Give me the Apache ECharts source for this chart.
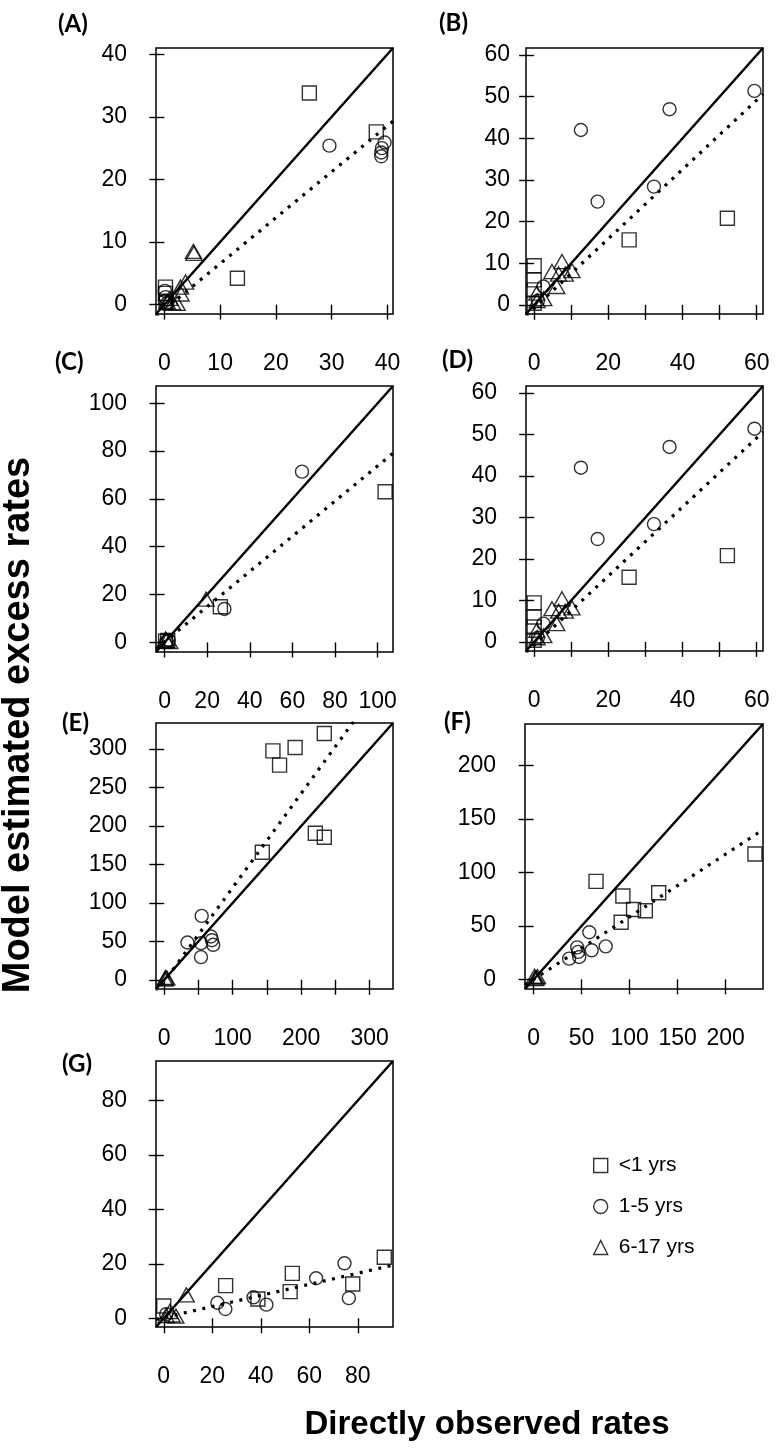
<!DOCTYPE html>
<html><head><meta charset="utf-8">
<script src="https://cdn.jsdelivr.net/npm/echarts@6/dist/echarts.min.js"></script>
<style>html,body{margin:0;padding:0;background:#fff}#c{width:777px;height:1451px}</style>
</head><body><div id="c"></div>
<script>
// ---------------- data ----------------
const legendNames = ['<1 yrs', '1-5 yrs', '6-17 yrs'];
const panelLabels = ['(A)', '(B)', '(C)', '(D)', '(E)', '(F)', '(G)'];
const yTitle = 'Model estimated excess rates';
const xTitle = 'Directly observed rates';

// Panel A
const aSquares = [[0.2,2.8],[0.2,1.8],[0.3,0.3],[13.1,4.2],[26,33.8],[38,27.6]];
const aCircles = [[0.1,2.2],[0.2,1.2],[0.1,0.6],[0.5,0.2],[29.6,25.4],[39.5,25.9],[39,25],[38.9,24.3],[38.9,23.7]];
const aTriangles = [[0.5,0.5],[1,1],[2.3,0.2],[3,1.7],[2.9,2.8],[3.8,3.6],[5.2,8.5],[5.3,8.2],[1.5,0.3]];
const aFit = [[-1.5,-1.9],[41,29.3]];
const aRange = [-1.5, 41];
const aXTicks = [0,10,20,30,40], aXLabels = [0,10,20,30,40], aYTicks = [0,10,20,30,40];

// Panel B
const bSquares = [[0,9.4],[0,6.0],[0,3.6],[0,0.4],[25.6,15.6],[52.1,20.8]];
const bCircles = [[2.5,4.4],[12.6,42.0],[17.1,24.8],[32.3,28.4],[36.5,47.0],[59.4,51.4],[1,1]];
const bTriangles = [[0.7,2.8],[2.6,1.5],[0.8,1.0],[4.8,8.0],[6.6,7.4],[7.5,10.4],[8.4,7.4],[10.2,8.2],[6.1,4.4]];
const bFit = [[-2.2,-2.6],[61.7,50.6]];
const bRange = [-2.2, 61.7];
const bXTicks = [0,10,20,30,40,50,60], bXLabels = [0,20,40,60], bYTicks = [0,10,20,30,40,50,60];

// Panel C
const cSquares = [[0.5,0.5],[1.5,0.8],[26.2,14.9],[103.5,63.0]];
const cCircles = [[0.8,0.3],[2,1],[28.1,14.0],[64.5,71.4]];
const cTriangles = [[1,0.8],[2.5,0.3],[0.5,1.5],[19.5,18.1]];
const cFit = [[-4,-2.7],[107.2,79.1]];
const cRange = [-4, 107.2];
const cXTicks = [0,20,40,60,80,100], cXLabels = [0,20,40,60,80,100], cYTicks = [0,20,40,60,80,100];

// Panel D
const dSquares = [[0,9.4],[0,6.0],[0,3.6],[0,0.4],[25.6,15.6],[52.1,20.8]];
const dCircles = [[2.5,4.4],[12.6,42.0],[17.1,24.8],[32.3,28.4],[36.5,47.0],[59.4,51.4],[1,1]];
const dTriangles = [[0.7,2.8],[2.6,1.5],[0.8,1.0],[4.8,8.0],[6.6,7.4],[7.5,10.4],[8.4,7.4],[10.2,8.2],[6.1,4.4]];
const dFit = [[-2.2,-2.6],[61.7,50.6]];
const dRange = [-2.2, 61.7];
const dXTicks = [0,10,20,30,40,50,60], dXLabels = [0,20,40,60], dYTicks = [0,10,20,30,40,50,60];

// Panel E
const eSquares = [[143.2,165.8],[158.7,297.8],[168.4,279.2],[191.1,302.2],[233.7,320.3],[220.6,190.5],[233.7,185.3]];
const eCircles = [[33.9,48.5],[53.7,47.6],[54.7,83.1],[68.2,56.3],[69.7,51.5],[71.6,45.5],[53.7,29.5]];
const eTriangles = [[3.9,2.2],[1,1],[2,3]];
const eFit = [[-12,-17.1],[334,406.4]];
const eRange = [-12, 334];
const eXTicks = [0,50,100,150,200,250,300], eXLabels = [0,100,200,300], eYTicks = [0,50,100,150,200,250,300];

// Panel F
const fSquares = [[65,91.7],[91.2,53.4],[93,78.1],[104.1,65.4],[116.4,64.2],[130.3,81.1],[230.6,117.3]];
const fCircles = [[37,19.4],[45.4,30.0],[46.4,25.7],[47.5,21],[58,44.1],[60.5,27.2],[75.1,30.9]];
const fTriangles = [[2.8,1.5],[1,3],[4,2.5],[1.5,0.8]];
const fFit = [[-9,-5.3],[239,140]];
const fRange = [-9, 239];
const fXTicks = [0,50,100,150,200], fXLabels = [0,50,100,150,200], fYTicks = [0,50,100,150,200];

// Panel G
const gSquares = [[0,4.5],[25.5,12.0],[38.8,7.1],[52.1,9.8],[53,16.5],[77.9,12.6],[90.9,22.4]];
const gCircles = [[22.1,5.7],[25.4,3.4],[37,7.7],[42.3,5.0],[62.8,14.7],[74.5,20.2],[76.3,7.4],[1,1.5]];
const gTriangles = [[9.3,8.6],[2.5,2.5],[3.5,1.2],[1,1],[5,0.8]];
const gFit = [[-3.2,-0.4],[94.5,19.5]];
const gRange = [-3.2, 94.5];
const gXTicks = [0,20,40,60,80], gXLabels = [0,20,40,60,80], gYTicks = [0,20,40,60,80];

// ---------------- layout ----------------
const panels = [
  {sq:aSquares, ci:aCircles, tr:aTriangles, fit:aFit, range:aRange, xt:aXTicks, xl:aXLabels, yt:aYTicks, box:[156,48,237,266], ym:29, lab:[58,12]},
  {sq:bSquares, ci:bCircles, tr:bTriangles, fit:bFit, range:bRange, xt:bXTicks, xl:bXLabels, yt:bYTicks, box:[526,48,237,266], ym:16, lab:[439,11]},
  {sq:cSquares, ci:cCircles, tr:cTriangles, fit:cFit, range:cRange, xt:cXTicks, xl:cXLabels, yt:cYTicks, box:[156,386,237,266], ym:29, lab:[55,350]},
  {sq:dSquares, ci:dCircles, tr:dTriangles, fit:dFit, range:dRange, xt:dXTicks, xl:dXLabels, yt:dYTicks, box:[526,386,237,265], ym:29, lab:[442,348]},
  {sq:eSquares, ci:eCircles, tr:eTriangles, fit:eFit, range:eRange, xt:eXTicks, xl:eXLabels, yt:eYTicks, box:[156,723,237,266], ym:29, lab:[62,711]},
  {sq:fSquares, ci:fCircles, tr:fTriangles, fit:fFit, range:fRange, xt:fXTicks, xl:fXLabels, yt:fYTicks, box:[525,724,238,265], ym:29, lab:[444,710]},
  {sq:gSquares, ci:gCircles, tr:gTriangles, fit:gFit, range:gRange, xt:gXTicks, xl:gXLabels, yt:gYTicks, box:[156,1061,237,266], ym:29, lab:[62,1052]}
];

const tickFont = {fontFamily:'Liberation Sans, Arial, sans-serif', fontSize:23, color:'#000'};
const hollow = {color:'rgba(0,0,0,0)', borderColor:'#000', borderWidth:1.4};

const grids = [], xAxes = [], yAxes = [], series = [], graphics = [];
panels.forEach((p, i) => {
  grids.push({left:p.box[0], top:p.box[1], width:p.box[2], height:p.box[3], show:true,
    borderColor:'#000', borderWidth:1.5, backgroundColor:'transparent', containLabel:false});
  const common = {type:'value', min:p.range[0], max:p.range[1], gridIndex:i,
    splitLine:{show:false}, axisLine:{show:false},
    axisTick:{show:true, inside:false, length:15, lineStyle:{color:'#000', width:1.4}}};
  xAxes.push(Object.assign({}, common, {
    axisTick:Object.assign({}, common.axisTick, {customValues:p.xt}),
    axisLabel:Object.assign({}, tickFont, {margin:38, customValues:p.xl})}));
  yAxes.push(Object.assign({}, common, {
    axisTick:Object.assign({}, common.axisTick, {customValues:p.yt}),
    axisLabel:Object.assign({}, tickFont, {margin:p.ym, customValues:p.yt})}));
  series.push({type:'line', xAxisIndex:i, yAxisIndex:i, data:[[p.range[0],p.range[0]],[p.range[1],p.range[1]]],
    symbol:'none', clip:true, silent:true, lineStyle:{color:'#000', width:2.5}, z:2});
  series.push({type:'line', xAxisIndex:i, yAxisIndex:i, data:p.fit, symbol:'none', clip:true, silent:true,
    lineStyle:{color:'#000', width:3.2, type:[3,6.5], cap:'butt'}, z:2});
  series.push({name:legendNames[0], type:'scatter', xAxisIndex:i, yAxisIndex:i, data:p.sq, symbol:'rect', symbolSize:14, itemStyle:hollow, z:3});
  series.push({name:legendNames[1], type:'scatter', xAxisIndex:i, yAxisIndex:i, data:p.ci, symbol:'circle', symbolSize:13, itemStyle:hollow, z:3});
  series.push({name:legendNames[2], type:'scatter', xAxisIndex:i, yAxisIndex:i, data:p.tr, symbol:'triangle', symbolSize:[16,14], itemStyle:hollow, z:3});
  graphics.push({type:'text', left:p.lab[0], top:p.lab[1], style:{text:panelLabels[i],
    font:'bold 24px Lato, "Open Sans", sans-serif', fill:'#000'}});
});

graphics.push({type:'text', x:19, y:725, rotation:Math.PI/2, style:{text:yTitle,
  font:'bold 38px "Liberation Sans", Arial, sans-serif', fill:'#000', align:'center', verticalAlign:'middle'}});
graphics.push({type:'text', x:487, y:1425, style:{text:xTitle,
  font:'bold 33px "Liberation Sans", Arial, sans-serif', fill:'#000', align:'center', verticalAlign:'middle'}});

const chart = echarts.init(document.getElementById('c'), null, {renderer:'canvas'});
chart.setOption({
  animation:false,
  backgroundColor:'#fff',
  grid:grids, xAxis:xAxes, yAxis:yAxes, series:series,
  legend:{orient:'vertical', left:588, top:1150, itemGap:20, itemWidth:14, itemHeight:14,
    textStyle:{fontFamily:'Liberation Sans, Arial, sans-serif', fontSize:21, color:'#000', padding:[0,0,0,6]},
    data:[
      {name:legendNames[0], icon:'rect', itemStyle:hollow},
      {name:legendNames[1], icon:'circle', itemStyle:hollow},
      {name:legendNames[2], icon:'triangle', itemStyle:hollow}
    ]},
  graphic:graphics
});
</script></body></html>
